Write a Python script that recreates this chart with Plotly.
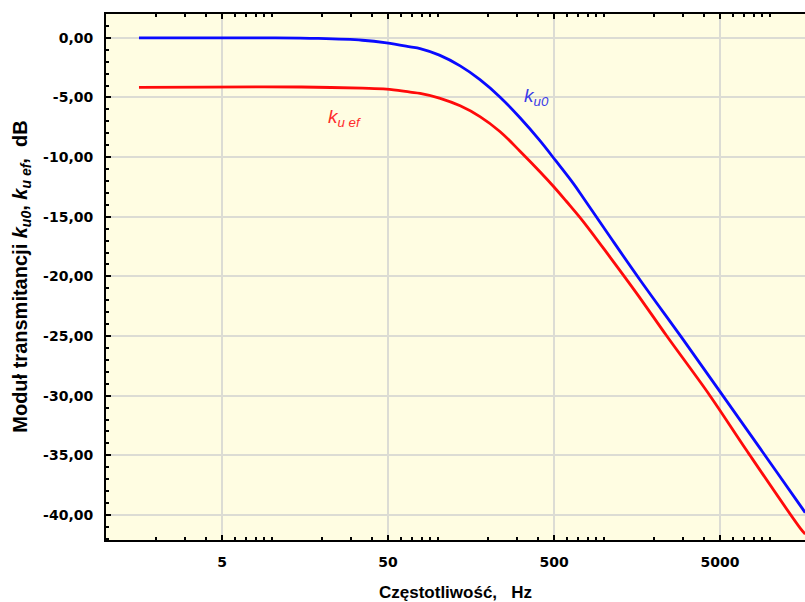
import plotly.graph_objects as go

# ---- data ----
freq_u0 = [1.58, 10, 19, 35, 49, 68, 78, 102, 136, 179, 236, 312, 410, 512, 653, 750,
           1090, 1650, 3000, 5200, 8700, 15200, 16300]
ku0_db = [0.0, 0.0, -0.05, -0.2, -0.42, -0.75, -0.9, -1.45, -2.35, -3.5, -4.95, -6.7, -8.6, -10.3,
          -12.2, -13.4, -16.7, -20.3, -25.3, -30.0, -34.4, -39.2, -39.8]

freq_uef = [1.58, 15, 35, 49, 68, 78, 102, 136, 179, 236, 312, 410, 500, 593, 750,
            1090, 1570, 2390, 4350, 7240, 15200, 16300]
kuef_db = [-4.15, -4.12, -4.22, -4.3, -4.55, -4.65, -5.05, -5.7, -6.6, -7.85, -9.5, -11.2, -12.5,
           -13.7, -15.4, -18.4, -21.4, -25.0, -30.0, -34.6, -41.1, -41.6]

x_tickvals = [5, 50, 500, 5000]
x_ticktext = ["5", "50", "500", "5000"]
x_minor = [m * d for d in (1, 10, 100, 1000, 10000) for m in (2, 3, 4, 6, 7, 8, 9, 10) if m * d <= 20000]

y_tickvals = [0, -5, -10, -15, -20, -25, -30, -35, -40]
y_ticktext = ["0,00", "-5,00", "-10,00", "-15,00", "-20,00", "-25,00", "-30,00", "-35,00", "-40,00"]

TICKFONT = dict(family="DejaVu Sans", size=14, color="black", weight="bold")

fig = go.Figure()
fig.add_trace(go.Scatter(x=freq_uef, y=kuef_db, mode="lines",
                         line=dict(color="#ff0a0a", width=2.8, shape="spline", smoothing=1.0),
                         showlegend=False))
fig.add_trace(go.Scatter(x=freq_u0, y=ku0_db, mode="lines",
                         line=dict(color="#0a0aff", width=2.8, shape="spline", smoothing=1.0),
                         showlegend=False))

fig.update_layout(
    width=805, height=602,
    margin=dict(l=106, r=0, t=14, b=62),
    paper_bgcolor="white",
    plot_bgcolor="#fffde2",
    showlegend=False,
    xaxis=dict(
        type="log", range=[0, 4.211],
        tickmode="array", tickvals=x_tickvals, ticktext=x_ticktext,
        ticks="inside", ticklen=5, tickwidth=1.5, tickcolor="black",
        showgrid=True, gridcolor="#dcdcd4", gridwidth=1.5,
        showline=True, linecolor="black", linewidth=2, mirror="ticks",
        zeroline=False,
        tickfont=TICKFONT, ticklabelstandoff=8,
        minor=dict(tickmode="array", tickvals=x_minor, ticks="inside", ticklen=3,
                   tickwidth=1.5, tickcolor="black", showgrid=False),
    ),
    yaxis=dict(
        range=[-42.1, 2.0],
        tickmode="array", tickvals=y_tickvals, ticktext=y_ticktext,
        ticks="inside", ticklen=5, tickwidth=1.5, tickcolor="black",
        showgrid=True, gridcolor="#dcdcd4", gridwidth=1.5,
        showline=True, linecolor="black", linewidth=2,
        zeroline=False,
        tickfont=TICKFONT, ticklabelstandoff=8,
        minor=dict(dtick=1, ticks="inside", ticklen=3, tickwidth=1.5,
                   tickcolor="black", showgrid=False),
    ),
    annotations=[
        dict(text="Moduł transmitancji <i>k<sub>u0</sub></i>, <i>k<sub>u ef</sub></i>,  dB",
             xref="paper", yref="paper", x=-0.122, y=0.5, textangle=-90,
             showarrow=False, xanchor="center", yanchor="middle",
             font=dict(family="Liberation Sans", size=20, color="black", weight="bold")),
        dict(text="Częstotliwość,   Hz",
             xref="paper", yref="paper", x=0.5, y=-0.099,
             showarrow=False, xanchor="center", yanchor="middle",
             font=dict(family="Liberation Sans", size=17, color="black", weight="bold")),
        dict(text="<i>k<sub>u0</sub></i>", xref="x", yref="y",
             x=2.505, y=-5.0, showarrow=False, xanchor="left", yanchor="middle",
             font=dict(family="Liberation Sans", size=19, color="#3a3ae8")),
        dict(text="<i>k<sub>u ef</sub></i>", xref="x", yref="y",
             x=1.325, y=-6.7, showarrow=False, xanchor="left", yanchor="middle",
             font=dict(family="Liberation Sans", size=19, color="#ff2a2a")),
    ],
)

fig.write_html("out.html", config={"displayModeBar": False},
               post_script="document.body.style.margin='0px';document.body.style.overflow='hidden';")
